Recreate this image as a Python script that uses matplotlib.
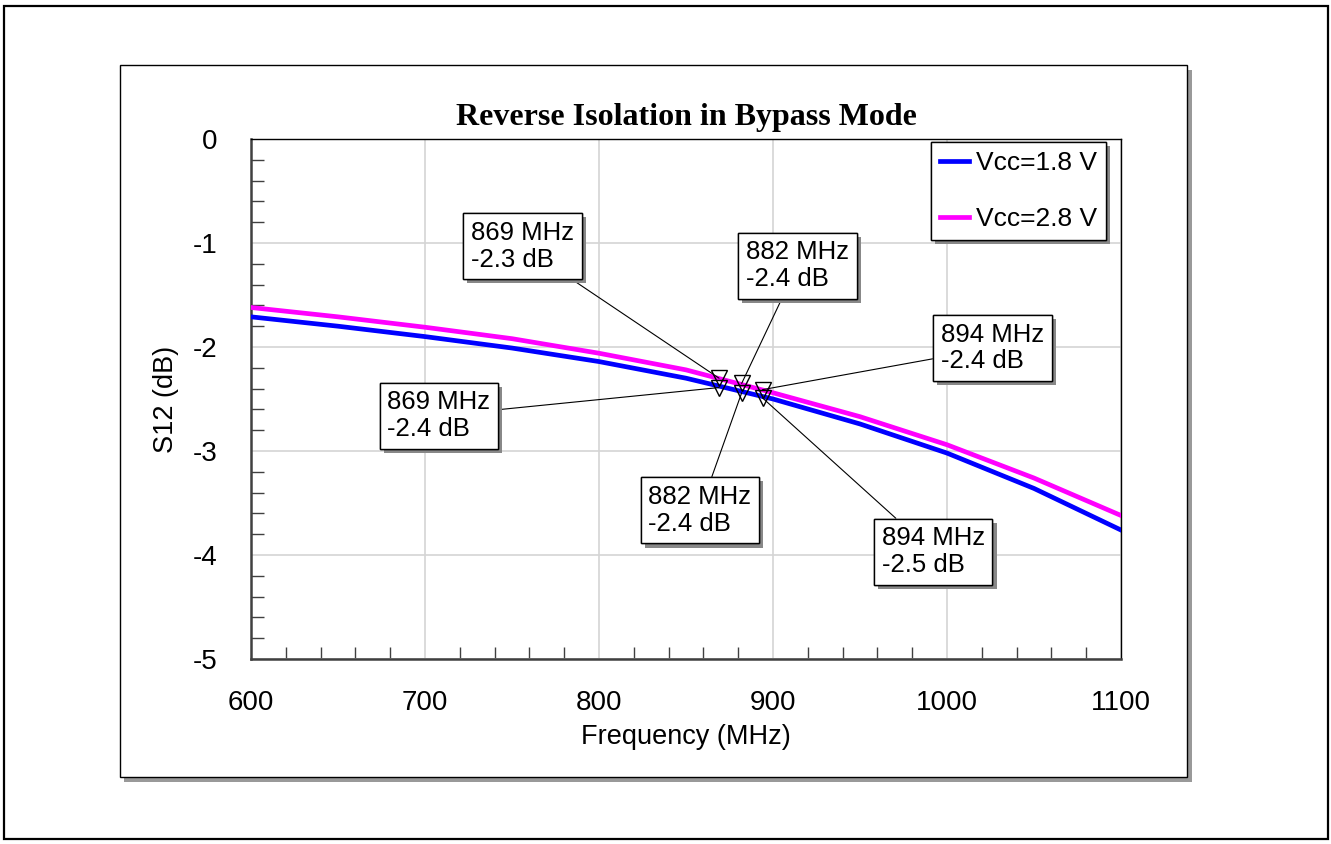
#### Reverse isolation in bypass mode ####
# S12 vs frequency for two supply voltages, with marker readouts

import numpy as np
import matplotlib.pyplot as plt
import matplotlib.patheffects as pe
from matplotlib.patches import Rectangle
from matplotlib.ticker import MultipleLocator

#### Data ####
freq = [600, 650, 700, 750, 800, 850, 900, 950, 1000, 1050, 1100]
s12_18 = [-1.71, -1.80, -1.90, -2.01, -2.14, -2.30, -2.50, -2.74, -3.02, -3.36, -3.76]
s12_28 = [-1.62, -1.71, -1.81, -1.92, -2.06, -2.22, -2.44, -2.67, -2.94, -3.26, -3.62]
series_labels = ['Vcc=1.8 V', 'Vcc=2.8 V']

mark_freq = [869, 882, 894]
mark_18 = [-2.39, -2.44, -2.49]
mark_28 = [-2.30, -2.35, -2.41]
mark_text_18 = ['869 MHz\n-2.4 dB', '882 MHz\n-2.4 dB', '894 MHz\n-2.5 dB']
mark_text_28 = ['869 MHz\n-2.3 dB', '882 MHz\n-2.4 dB', '894 MHz\n-2.4 dB']

# where the readout boxes sit (data coords)
box_pos_18 = [(708, -2.66), (858, -3.57), (992, -3.97)]
box_pos_28 = [(756, -1.03), (914, -1.22), (1026, -2.01)]

plt.rcParams['font.family'] = ['Liberation Sans', 'DejaVu Sans']
plt.rcParams['axes.unicode_minus'] = False

fig = plt.figure(figsize=(13.31, 8.44), dpi=100)
W, H = 1331, 844

def px_rect(x0, y0, x1, y1, **kw):
    # rectangle in pixel coords (origin top-left) -> figure fraction
    return Rectangle((x0 / W, 1 - y1 / H), (x1 - x0) / W, (y1 - y0) / H,
                     transform=fig.transFigure, **kw)

# outer border
fig.patches.append(px_rect(4, 6, 1328, 839, fill=False, ec='black', lw=1.6, zorder=-5))
# inner frame with shadow
fig.patches.append(px_rect(124, 70, 1192, 782, fc='#999999', ec='none', zorder=-4))
fig.patches.append(px_rect(120, 65, 1187, 777, fc='white', ec='black', lw=1.0, zorder=-3))

ax = fig.add_axes([251 / W, 1 - 659 / H, 870 / W, 520 / H])

ax.plot(freq, s12_18, color='#0000ff', lw=3.4, label=series_labels[0], zorder=3)
ax.plot(freq, s12_28, color='#ff00ff', lw=3.4, label=series_labels[1], zorder=3)

shadow = [pe.withSimplePatchShadow(offset=(3, -3), shadow_rgbFace='#888888', alpha=1.0), pe.Normal()]

for vals, texts, boxes in [(mark_28, mark_text_28, box_pos_28), (mark_18, mark_text_18, box_pos_18)]:
    ax.plot(mark_freq, vals, linestyle='none', marker='v', ms=12, mfc='none',
            mec='black', mew=1.0, zorder=5)
    for f, v, t, b in zip(mark_freq, vals, texts, boxes):
        ann = ax.annotate(t, xy=(f, v), xytext=b, textcoords='data',
                          ha='center', va='center', multialignment='left', fontsize=18.5,
                          linespacing=1.15,
                          bbox=dict(boxstyle='square,pad=0.3', fc='white', ec='black', lw=1.0),
                          arrowprops=dict(arrowstyle='-', color='black', lw=0.8,
                                          shrinkA=0, shrinkB=0),
                          zorder=6)
        ann.get_bbox_patch().set_path_effects(shadow)

ax.set_xlim(600, 1100)
ax.set_ylim(-5, 0)
ax.xaxis.set_major_locator(MultipleLocator(100))
ax.xaxis.set_minor_locator(MultipleLocator(20))
ax.yaxis.set_major_locator(MultipleLocator(1))
ax.yaxis.set_minor_locator(MultipleLocator(0.2))
ax.grid(True, which='major', color='#d4d4d4', lw=1.2)
ax.set_axisbelow(True)

ax.tick_params(which='major', length=0, labelsize=20, pad=22)
ax.tick_params(axis='y', which='major', pad=24)
ax.tick_params(which='minor', direction='in', length=9, width=1.0, color='#404040')
ax.tick_params(top=False, right=False, which='both')

for s in ['left', 'bottom']:
    ax.spines[s].set_color('#404040')
    ax.spines[s].set_linewidth(1.8)
for s in ['top', 'right']:
    ax.spines[s].set_color('black')
    ax.spines[s].set_linewidth(1.0)

ax.set_xlabel('Frequency (MHz)', fontsize=19.5, labelpad=6)
ax.set_ylabel('S12 (dB)', fontsize=19.5, labelpad=10)
ax.set_title('Reverse Isolation in Bypass Mode', fontsize=23, fontweight='bold',
             family='Liberation Serif', pad=10)

leg = ax.legend(loc='upper right', bbox_to_anchor=(0.983, 0.994), fontsize=19,
                frameon=True, fancybox=False, edgecolor='black', framealpha=1,
                handlelength=1.1, handletextpad=0.25, labelspacing=1.2,
                borderpad=0.35, borderaxespad=0)
leg.get_frame().set_linewidth(1.0)
leg.get_frame().set_path_effects(shadow)
for l in leg.get_lines():
    l.set_linewidth(3.4)

fig.savefig('out.png', dpi=100)
